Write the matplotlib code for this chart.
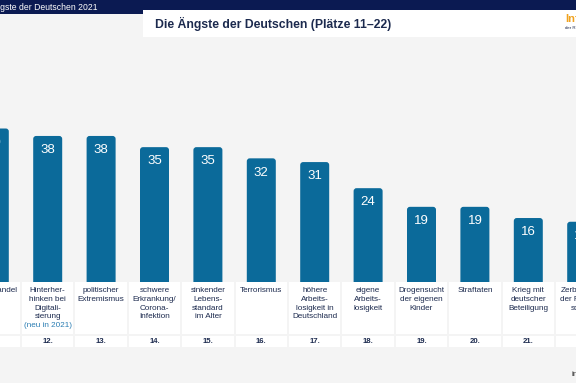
import matplotlib.pyplot as plt
from matplotlib.patches import FancyBboxPatch, Rectangle

plt.rcParams['font.family'] = ['Liberation Sans', 'DejaVu Sans']

# data (Plätze 11-22, Angaben in Prozent)
ranks = [11, 12, 13, 14, 15, 16, 17, 18, 19, 20, 21, 22]
values = [40, 38, 38, 35, 35, 32, 31, 24, 19, 19, 16, 15]
labels = ["Klimawandel",
          "Hinterher-\nhinken bei\nDigitali-\nsierung",
          "politischer\nExtremismus",
          "schwere\nErkrankung/\nCorona-\nInfektion",
          "sinkender\nLebens-\nstandard\nim Alter",
          "Terrorismus",
          "höhere\nArbeits-\nlosigkeit in\nDeutschland",
          "eigene\nArbeits-\nlosigkeit",
          "Drogensucht\nder eigenen\nKinder",
          "Straftaten",
          "Krieg mit\ndeutscher\nBeteiligung",
          "Zerbrechen\nder Partner-\nschaft"]
notes = ["", "(neu in 2021)", "", "", "", "", "", "", "", "", "", ""]

W, H = 576, 383
navy = '#0b1a52'
bar_col = '#0b6a9a'
txt_col = '#1c2a4e'
bg = '#f4f4f4'

fig = plt.figure(figsize=(W / 100, H / 100), dpi=100)
fig.patch.set_facecolor(bg)

# background / header in pixel coordinates
axp = fig.add_axes([0, 0, 1, 1])
axp.set_xlim(0, W)
axp.set_ylim(H, 0)
axp.axis('off')
axp.add_patch(Rectangle((0, 0), W, 14, color=navy, lw=0))
axp.add_patch(Rectangle((143, 10), W - 143, 27, color='white', lw=0))
axp.text(98, 7, "Die Ängste der Deutschen 2021", color='white', fontsize=6.2,
         ha='right', va='center')
axp.text(155, 23.5, "Die Ängste der Deutschen (Plätze 11–22)", color=txt_col,
         fontsize=8.8, fontweight='bold', ha='left', va='center')
axp.text(565, 19, "Infocenter", color='#f0a21e', fontsize=8, fontweight='bold',
         ha='left', va='center')
axp.text(565, 28, "der R+V Versicherung", color=txt_col, fontsize=3.2,
         ha='left', va='center')
axp.text(571, 375, "infocenter.ruv.de", color='#333333', fontsize=6,
         ha='left', va='center')

# bar axes: x in bar index, y in percent
px_per_unit = 53.4
x0 = -5.7
xlim = (-x0 / px_per_unit, (W - x0) / px_per_unit)
y_px_per_val = 3.73
zero_px = 277.7
bar_bottom_px = 282
ax = fig.add_axes([0, (H - bar_bottom_px) / H, 1, bar_bottom_px / H])
ax.set_xlim(*xlim)
ax.set_ylim(-(bar_bottom_px - zero_px) / y_px_per_val, zero_px / y_px_per_val)
ax.axis('off')
ax.patch.set_alpha(0)

bw = 29 / px_per_unit
aspect = px_per_unit / y_px_per_val
for k, v in enumerate(values):
    p = FancyBboxPatch((k - bw / 2, -8), bw, v + 8,
                       boxstyle="round,pad=0,rounding_size=0.055",
                       mutation_aspect=aspect, fc=bar_col, ec='none')
    ax.add_patch(p)
    ax.text(k, v - 3.8, str(v), color='white', fontsize=9.5,
            ha='center', va='center')

# label table below the bars
axt = fig.add_axes([0, 0, 1, 1])
axt.set_xlim(*xlim)
axt.set_ylim(H, 0)
axt.axis('off')
axt.patch.set_alpha(0)
bxw = 51.3 / px_per_unit
for k, (r, lab, note) in enumerate(zip(ranks, labels, notes)):
    axt.add_patch(Rectangle((k - bxw / 2, 282), bxw, 52, color='white', lw=0))
    axt.add_patch(Rectangle((k - bxw / 2, 336), bxw, 10.7, color='white', lw=0))
    lines = lab.split('\n')
    for j, line in enumerate(lines):
        axt.text(k, 290.7 + j * 8.7, line, color=txt_col, fontsize=5.9,
                 ha='center', va='center')
    if note:
        axt.text(k, 290.7 + len(lines) * 8.7, note, color='#2a7db3',
                 fontsize=5.9, ha='center', va='center')
    axt.text(k, 341.3, f"{r}.", color=txt_col, fontsize=5.6, fontweight='bold',
             ha='center', va='center')

fig.savefig('out.png', dpi=100, facecolor=bg)
